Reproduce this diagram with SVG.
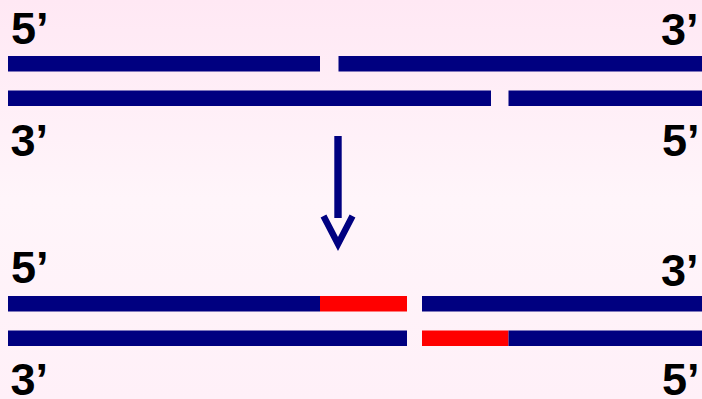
<svg xmlns="http://www.w3.org/2000/svg" width="702" height="399" viewBox="0 0 702 399">
<defs>
<linearGradient id="bg" x1="0" y1="0" x2="0" y2="1">
<stop offset="0" stop-color="#FFE8F4"/>
<stop offset="0.5" stop-color="#FFF5FA"/>
<stop offset="1" stop-color="#FFF0F8"/>
</linearGradient>
<style>
.lbl{font-family:"Liberation Sans",Arial,sans-serif;font-weight:bold;font-size:45px;fill:#000}
.dna{fill:#000080}
.new{fill:#FF0000}
</style>
</defs>
<rect width="702" height="399" fill="url(#bg)"/>
<g id="top-strands">
<rect class="dna" x="8" y="56" width="312" height="15.5"/>
<rect class="dna" x="338.5" y="56" width="363.5" height="15.5"/>
<rect class="dna" x="8" y="90.5" width="483" height="15.5"/>
<rect class="dna" x="508.5" y="90.5" width="193.5" height="15.5"/>
</g>
<g id="top-labels">
<text class="lbl" x="11" y="44">5’</text>
<text class="lbl" x="661" y="45">3’</text>
<text class="lbl" x="10.5" y="156">3’</text>
<text class="lbl" x="662" y="156">5’</text>
</g>
<g id="connectors">
<rect x="334.3" y="136" width="7.4" height="82" fill="#000080"/>
<polyline points="323.5,216 338,244 352.5,216" fill="none" stroke="#000080" stroke-width="6.5"/>
</g>
<g id="bottom-strands">
<rect class="dna" x="8" y="296" width="312" height="15.5"/>
<rect class="new" x="320" y="296" width="87" height="15.5"/>
<rect class="dna" x="422" y="296" width="280" height="15.5"/>
<rect class="dna" x="8" y="330.5" width="399" height="15.5"/>
<rect class="new" x="422" y="330.5" width="86.5" height="15.5"/>
<rect class="dna" x="508.5" y="330.5" width="193.5" height="15.5"/>
</g>
<g id="bottom-labels">
<text class="lbl" x="11" y="283">5’</text>
<text class="lbl" x="661" y="286">3’</text>
<text class="lbl" x="10.5" y="395">3’</text>
<text class="lbl" x="662" y="395">5’</text>
</g>
</svg>
